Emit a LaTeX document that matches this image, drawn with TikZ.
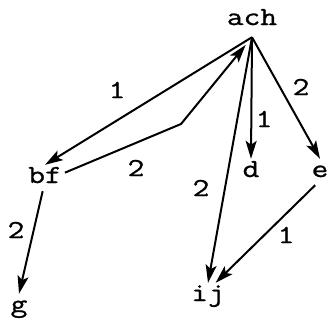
\documentclass[tikz,border=0pt]{standalone}
\usepackage{fontspec}
\setmonofont{Latin Modern Mono}[FakeStretch=1.25, FakeBold=1]
\usetikzlibrary{arrows.meta}
\begin{document}
\begin{tikzpicture}[x=1pt, y=-1pt,
        every node/.style={font=\ttfamily\fontsize{26}{30}\selectfont, inner sep=3pt},
        vtx/.style={anchor=base, text height=15pt, text depth=5pt},
        edge/.style={line width=2pt, -{Stealth[length=18pt, width=11pt, inset=4pt]}}]
        \useasboundingbox (0,0) rectangle (327,322);
        \node[vtx, inner sep=7pt] (ach) at (252,25) {ach};
        \node[vtx] (bf) at (45,183) {bf};
        \node[vtx] (d) at (251,177) {d};
        \node[vtx] (e) at (320,177) {e};
        \node[vtx] (ij) at (208,301) {ij};
        \node[vtx] (g) at (19,312) {g};
        \coordinate (bend) at (181,124);
        \draw[edge] (ach.south) -- (bf.north);
        \draw[edge, shorten >=10pt] (bf.15) -- (bend) -- (ach.south);
        \draw[edge] (ach.south) -- (d.north);
        \draw[edge] (ach.south) -- (e.north);
        \draw[edge] (ach.south) -- (ij.north);
        \draw[edge] (e.250) -- (ij.60);
        \draw[edge] (bf.260) -- (g.north);
        \foreach \i/\x/\y/\w in {1/117/90/1, 2/136/168/2, 3/264/119/1, 4/301/87/2, 5/201/188/2, 6/286/235/1, 7/16/230/2} {
            \node (w\i) at (\x,\y) {\w};
        }
    \end{tikzpicture}
\end{document}
